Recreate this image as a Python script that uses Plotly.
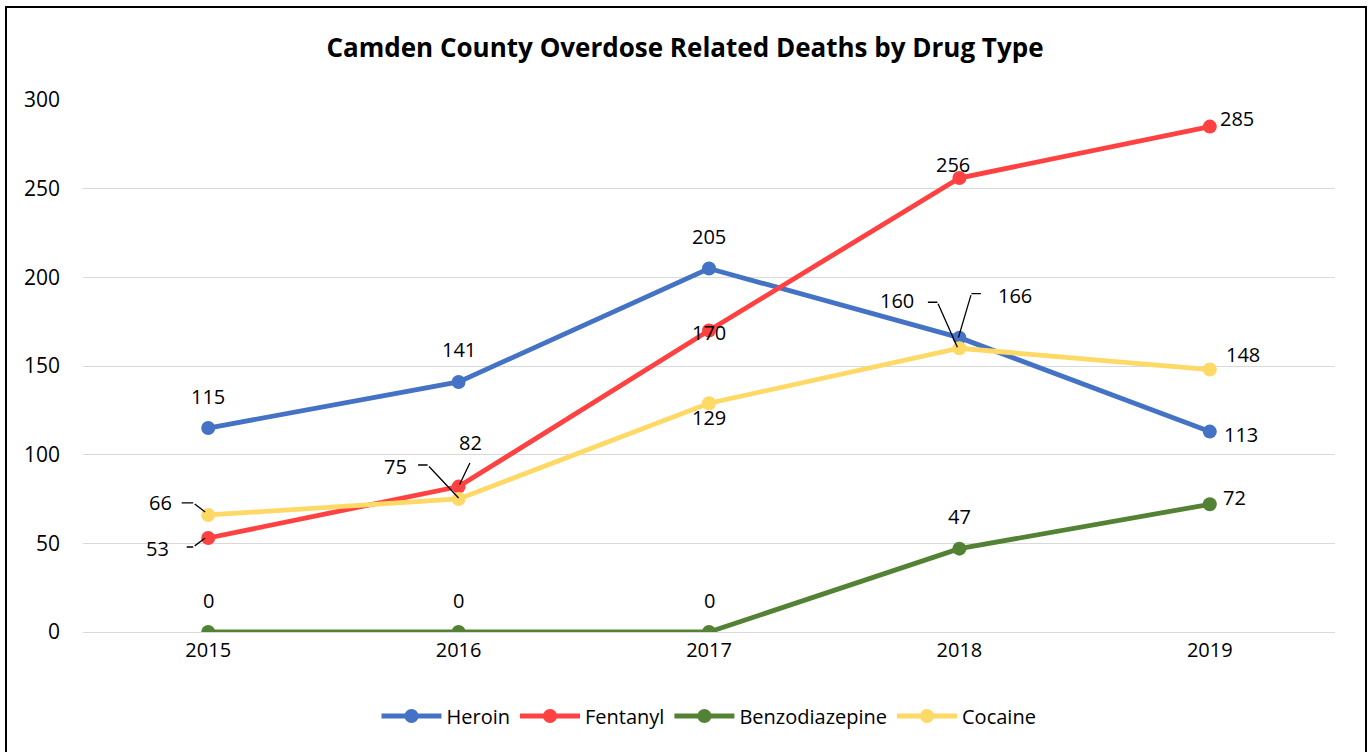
import plotly.graph_objects as go

YEARS = [2015, 2016, 2017, 2018, 2019]
HEROIN = [115, 141, 205, 166, 113]
FENTANYL = [53, 82, 170, 256, 285]
BENZO = [0, 0, 0, 47, 72]
COCAINE = [66, 75, 129, 160, 148]

SERIES = [
    ("Heroin", HEROIN, "#4472C4"),
    ("Fentanyl", FENTANYL, "#FF4141"),
    ("Benzodiazepine", BENZO, "#548235"),
    ("Cocaine", COCAINE, "#FFD966"),
]

# 标签偏移（像素，屏幕方向：x右为正，y下为正）
LABEL_OFFSETS = {
    "Heroin": [(0, -32), (0, -32), (0, -32), (56, -42), (31, 3)],
    "Fentanyl": [(-51, 10), (12, -44), (0, 2), (-6, -14), (27, -8)],
    "Benzodiazepine": [(0, -32), (0, -32), (0, -32), (0, -32), (25, -7)],
    "Cocaine": [(-48, -12), (-63, -33), (0, 14), (-62, -48), (33, -15)],
}

# 引导线（像素折线，相对数据点，屏幕方向）
LEADERS = {
    ("Cocaine", 0): [(-28, -12), (-15, -12), (-3, -3)],
    ("Fentanyl", 0): [(-23, 9), (-15, 9), (-3, 0)],
    ("Cocaine", 1): [(-42, -34), (-31, -34), (0, -1)],
    ("Fentanyl", 1): [(12, -25), (1, -2)],
    ("Cocaine", 3): [(-33, -46), (-22, -46), (-2, -1)],
    ("Heroin", 3): [(23, -44), (12, -44), (-1, 0)],
}

FONT = "Open Sans, sans-serif"


def add_segment(fig, x, y, p0, p1):
    # 用箭头注释画一段像素线段：从 p0 到 p1（相对数据点的像素偏移）
    fig.add_annotation(
        x=x, y=y, xref="x", yref="y", text="", showarrow=True,
        xshift=p1[0], yshift=-p1[1],
        ax=p0[0] - p1[0], ay=p0[1] - p1[1],
        arrowhead=0, arrowwidth=1.3, arrowcolor="black",
        standoff=0, startstandoff=0,
    )


fig = go.Figure()
for name, vals, color in SERIES:
    fig.add_trace(go.Scatter(
        x=YEARS, y=vals, name=name, mode="lines+markers",
        line=dict(color=color, width=4.8),
        marker=dict(color=color, size=14),
    ))

for name, vals, color in SERIES:
    for i, (yr, v) in enumerate(zip(YEARS, vals)):
        dx, dy = LABEL_OFFSETS[name][i]
        fig.add_annotation(
            x=yr, y=v, xref="x", yref="y", text=str(v), showarrow=False,
            xshift=dx, yshift=-dy,
            font=dict(size=20, color="black"),
        )
        pts = LEADERS.get((name, i))
        if pts:
            for p0, p1 in zip(pts[:-1], pts[1:]):
                add_segment(fig, yr, v, p0, p1)

# 外框
fig.add_shape(
    type="rect", xref="paper", yref="paper",
    x0=(6 - 83) / 1252, x1=(1366 - 83) / 1252,
    y0=(632 - 790) / 532, y1=(632 - 7) / 532,
    line=dict(color="black", width=2), layer="below",
)

fig.update_layout(
    width=1370, height=752,
    margin=dict(l=83, r=35, t=100, b=120),
    paper_bgcolor="white", plot_bgcolor="white",
    font=dict(family=FONT, size=20, color="black"),
    title=dict(
        text="<b>Camden County Overdose Related Deaths by Drug Type</b>",
        x=0.5, xanchor="center", y=1 - 48 / 752, yanchor="middle",
        font=dict(size=26, color="black", family=FONT),
    ),
    showlegend=True,
    legend=dict(
        orientation="h", x=0.5, xanchor="center",
        y=-(716 - 632) / 532, yanchor="middle",
        font=dict(size=20, color="black"),
        itemwidth=60,
    ),
    xaxis=dict(
        range=[2014.5, 2019.5], tickmode="array", tickvals=YEARS,
        ticktext=[str(y) for y in YEARS],
        showgrid=False, showline=True, linecolor="#d9d9d9", linewidth=1,
        zeroline=False, ticks="", tickfont=dict(size=20),
    ),
    yaxis=dict(
        range=[0, 300], dtick=50,
        showgrid=True, gridcolor="#d9d9d9", gridwidth=1.3,
        zeroline=False, showline=False, ticks="",
        ticklabelstandoff=22, tickfont=dict(size=21),
    ),
)

fig.write_html("out.html", config={"displayModeBar": False},
               post_script="document.body.style.margin='0';")
